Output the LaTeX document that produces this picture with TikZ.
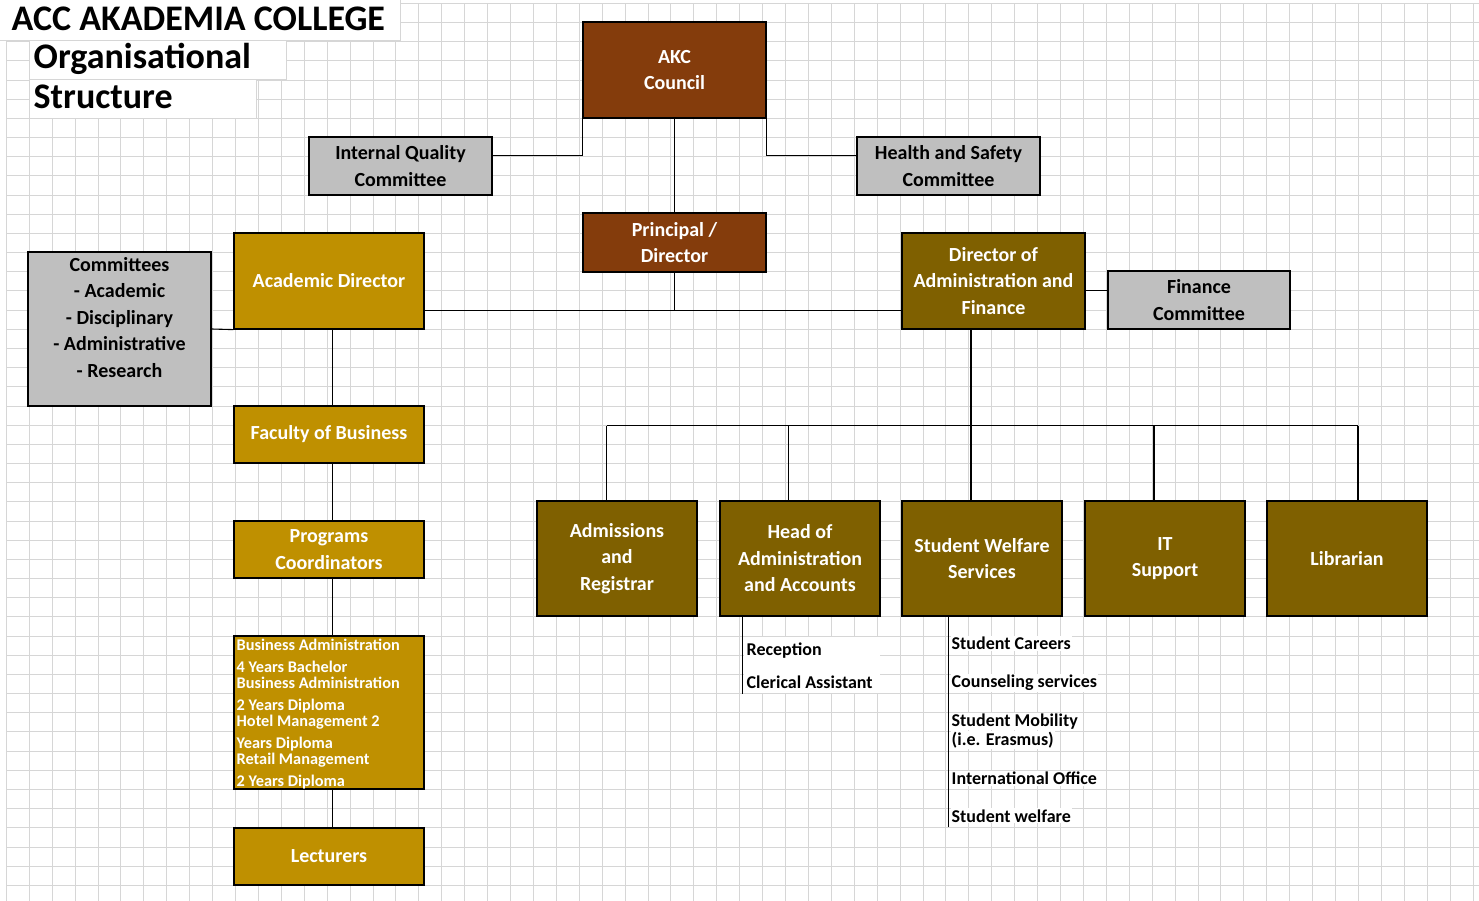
\documentclass[tikz,border=0pt]{standalone}
\usepackage{fontspec}
\setmainfont{Carlito}
\definecolor{gridc}{HTML}{D6D6D6}
\definecolor{rust}{HTML}{843C0C}
\definecolor{gold}{HTML}{BF9000}
\definecolor{olive}{HTML}{7F6000}
\definecolor{grayb}{HTML}{BFBFBF}
\tikzset{
  gridline/.style={draw=gridc, line width=0.9pt},
  boxbase/.style={draw=black, line width=1.2pt, inner sep=0pt, align=center,
    font=\fontsize{20}{26.5}\selectfont\bfseries},
  rustbox/.style={boxbase, fill=rust, text=white},
  goldbox/.style={boxbase, fill=gold, text=white},
  olivebox/.style={boxbase, fill=olive, text=white},
  graybox/.style={boxbase, fill=grayb, text=black},
  sz/.style 2 args={minimum width=#1, minimum height=#2},
  conn/.style={draw=black, line width=1.1pt},
  listtext/.style={inner sep=1pt, fill=white, font=\fontsize{18}{19}\selectfont\bfseries},
  titletext/.style={inner sep=0pt, font=\fontsize{#1}{#1}\selectfont\bfseries},
  titlebg/.style={fill=white, draw=gridc, line width=0.9pt}
}
\begin{document}
\begin{tikzpicture}[x=1pt,y=-1pt]
\useasboundingbox (0,0) rectangle (1479,901);
\fill[white] (0,0) rectangle (1479,901);
% grid
\foreach \i in {0,...,64} \draw[gridline] ({6.3+22.917*\i},3.3) -- ({6.3+22.917*\i},901);
\foreach \j in {0,...,46} \draw[gridline] (6.3,{3.3+19.174*\j}) -- (1479,{3.3+19.174*\j});
% title
\path[titlebg] (-2,-2) rectangle (400,40.7);
\path[titlebg] (29.2,40.7) rectangle (286.7,79.5);
\path[titlebg] (29.2,79.5) rectangle (256.7,118.5);
\node[titletext=36, anchor=base west] (t1) at (11.5,31) {ACC AKADEMIA COLLEGE};
\node[titletext=36, anchor=base west] (t2) at (33.5,69) {Organisational};
\node[titletext=36, anchor=base west] (t3) at (33.5,108.5) {Structure};

% boxes
\node[rustbox, sz={183}{96}] (akc) at (674.5,70) {AKC\\Council};
\node[graybox, sz={183}{58}] (iqc) at (400.5,166) {Internal Quality\\Committee};
\node[graybox, sz={183}{58}] (hsc) at (948.5,166) {Health and Safety\\Committee};
\node[rustbox, sz={183}{59}] (pri) at (674.5,242.5) {Principal /\\Director};
\node[goldbox, sz={190}{96}] (acad) at (329,281) {Academic Director};
\node[olivebox, sz={183}{96}] (daf) at (993.5,281) {Director of\\Administration and\\Finance};
\node[graybox, sz={182}{58}] (fin) at (1199,300) {Finance\\Committee};
\node[graybox, sz={183}{154}] (com) at (119.5,329) {};
\node[boxbase, draw=none, fill=none, anchor=north] (comtxt) at (119.5,256.5)
  {Committees\\- Academic\\- Disciplinary\\- Administrative\\- Research};
\node[goldbox, sz={190}{57}] (fob) at (329,434.5) {Faculty of Business};
\node[goldbox, sz={190}{57}] (pc) at (329,549.5) {Programs\\Coordinators};
\node[goldbox, sz={190}{153}] (prog) at (329,712.5) {};
\node[anchor=north west, inner sep=0pt, align=left, text=white,
  font=\fontsize{16.3}{16.5}\selectfont\bfseries] (progtxt) at (236.5,639.3)
  {Business Administration\\[5pt]4 Years Bachelor\\Business Administration\\[5pt]2 Years Diploma\\Hotel Management 2\\[5pt]Years Diploma\\Retail Management\\[5pt]2 Years Diploma};
\node[goldbox, sz={190}{57}] (lec) at (329,856.5) {Lecturers};
\node[olivebox, sz={160}{115}] (adm) at (617,558.5) {Admissions\\and\\Registrar};
\node[olivebox, sz={160}{115}] (hoa) at (800,558.5) {Head of\\Administration\\and Accounts};
\node[olivebox, sz={160}{115}] (sws) at (982,558.5) {Student Welfare\\Services};
\node[olivebox, sz={160}{115}] (its) at (1165,558.5) {IT\\Support};
\node[olivebox, sz={160}{115}] (lib) at (1347,558.5) {Librarian};

% connectors
\draw[conn] (akc.south) -- (pri.north);
\draw[conn] ([yshift=-19pt]iqc.north east) -| (akc.south west);
\draw[conn] (akc.south east) |- ([yshift=-19pt]hsc.north west);
\coordinate (midl) at ([yshift=19pt]acad.south east);
\coordinate (midr) at ([yshift=19pt]daf.south west);
\draw[conn] (midl) -- (midr);
\draw[conn] (pri.south) -- (pri.south |- midr);
\coordinate (finin) at ([yshift=-20pt]fin.north west);
\draw[conn] (finin) -- (finin -| daf.east);
\draw[conn] (com.east) -- (acad.south west);
\draw[conn] ([xshift=3.5pt]acad.south) -- ([xshift=3.5pt]fob.north);
\draw[conn] ([xshift=3.5pt]fob.south) -- ([xshift=3.5pt]pc.north);
\draw[conn] ([xshift=3.5pt]pc.south) -- ([xshift=3.5pt]prog.north);
\draw[conn] ([xshift=3.5pt]prog.south) -- ([xshift=3.5pt]lec.north);
\coordinate (dafdrop) at ([xshift=-22.5pt]daf.south);
\coordinate (busy) at ([yshift=-96pt]dafdrop);
\coordinate (a1) at ([xshift=-10.3pt]adm.north);
\coordinate (a2) at ([xshift=-11.3pt]hoa.north);
\coordinate (a3) at ([xshift=-11pt]sws.north);
\coordinate (a4) at ([xshift=-11pt]its.north);
\coordinate (a5) at ([xshift=11pt]lib.north);
\draw[conn] (dafdrop) -- (dafdrop |- busy);
\draw[conn] (a1 |- busy) -- (a5 |- busy);
\foreach \a in {a1,a2,a3,a4,a5} \draw[conn] (\a) -- (\a |- busy);

% sub lists
\coordinate (hoatop) at ([xshift=23.3pt]hoa.south west);
\coordinate (hoaend) at ([xshift=23.3pt,yshift=-77pt]hoa.south west);
\fill[white] (744,636.7) rectangle (880,693);
\draw[conn] (hoatop) -- (hoaend);
\node[listtext, anchor=base west] (rec) at (745.5,655) {Reception};
\node[listtext, anchor=base west] (cla) at (745.5,688) {Clerical Assistant};
\coordinate (swstop) at ([xshift=46.7pt]sws.south west);
\coordinate (swsend) at ([xshift=46.7pt,yshift=-210.5pt]sws.south west);
\draw[conn] (swstop) -- (swsend);
\node[listtext, anchor=base west] (sc) at (950.5,649.5) {Student Careers};
\node[listtext, anchor=base west] (cs) at (950.5,687.5) {Counseling services};
\node[listtext, anchor=base west] (sm) at (950.5,726.5) {Student Mobility};
\node[listtext, anchor=base west] (er) at (950.5,745.5) {(i.e. Erasmus)};
\node[listtext, anchor=base west] (io) at (950.5,784.5) {International Office};
\node[listtext, anchor=base west] (swf) at (950.5,822) {Student welfare};
\end{tikzpicture}
\end{document}
